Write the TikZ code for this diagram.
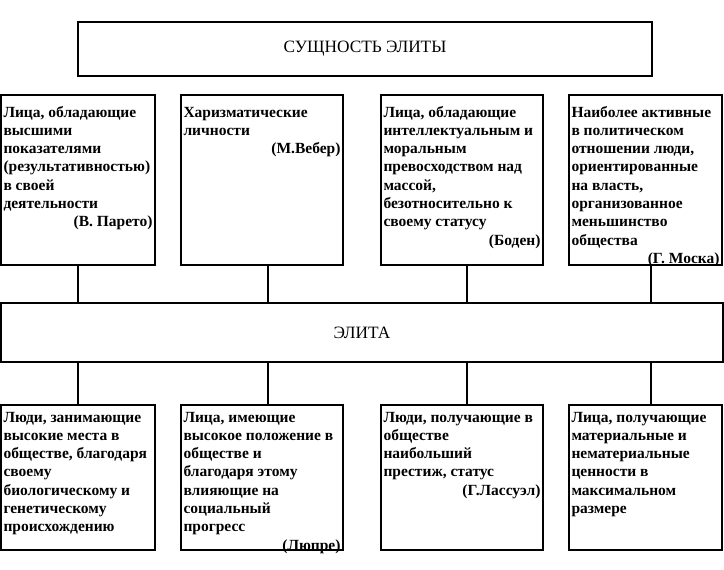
\documentclass[tikz,border=0pt]{standalone}
\usepackage{fontspec}
\setmainfont{Liberation Serif}
\usetikzlibrary{positioning}
\tikzset{
  frame/.style={draw, line width=1.6pt, inner sep=0pt, outer sep=0pt},
  head/.style={frame, font=\fontsize{17.3}{20}\selectfont},
  cell/.style={frame, anchor=north west, inner xsep=2.5pt, inner ysep=0pt,
               font=\bfseries\fontsize{15.5}{18.3}\selectfont},
  link/.style={line width=1.6pt},
}
% fixed-height text block: height, top gap, width, text
\newcommand{\celltext}[4]{\parbox[t][#1][t]{#3}{\raggedright\vspace*{#2}\strut #4}}
\newcommand{\uptext}[2]{\celltext{170pt}{9.2pt}{#1}{#2}}
\newcommand{\lowtext}[2]{\celltext{145pt}{4.2pt}{#1}{#2}}
\newcommand{\who}[1]{\hspace*{\fill}#1}

\begin{document}
\begin{tikzpicture}[x=1pt, y=1pt]
  \useasboundingbox (0,0) rectangle (724,-570);
  % bands
  \node[head, minimum width=574pt, minimum height=54pt] (title) at (365,-49) {СУЩНОСТЬ ЭЛИТЫ};
  \node[head, minimum width=722pt, minimum height=59pt] (elite) at (362,-332.5) {ЭЛИТА};
  % upper row
  \node[cell, above=38pt of elite.north west, anchor=south west] (t1)
    {\uptext{149pt}{Лица, обладающие\\высшими\\показателями\\(результативностью)\\в своей\\деятельности\\\who{(В. Парето)}}};
  \node[cell, right=26pt of t1] (t2)
    {\uptext{157pt}{Харизматические\\личности\\\who{(М.Вебер)}}};
  \node[cell, right=38pt of t2] (t3)
    {\uptext{157pt}{Лица, обладающие\\интеллектуальным и\\моральным\\превосходством над\\массой,\\безотносительно к\\своему статусу\\\who{(Боден)}}};
  \node[cell, right=26pt of t3] (t4)
    {\uptext{148pt}{Наиболее активные\\в политическом\\отношении люди,\\ориентированные\\на власть,\\организованное\\меньшинство\\общества\\\who{(Г. Моска)}}};
  % lower row
  \node[cell, below=43pt of elite.south west, anchor=north west] (b1)
    {\lowtext{149pt}{Люди, занимающие\\высокие места в\\обществе, благодаря\\своему\\биологическому и\\генетическому\\происхождению}};
  \node[cell, right=26pt of b1] (b2)
    {\lowtext{157pt}{Лица, имеющие\\высокое положение в\\обществе и\\благодаря этому\\влияющие на\\социальный\\прогресс\\\who{(Люпре)}}};
  \node[cell, right=38pt of b2] (b3)
    {\lowtext{157pt}{Люди, получающие в\\обществе\\наибольший\\престиж, статус\\\who{(Г.Лассуэл)}}};
  \node[cell, right=26pt of b3] (b4)
    {\lowtext{148pt}{Лица, получающие\\материальные и\\нематериальные\\ценности в\\максимальном\\размере}};
  % links
  \foreach \n/\dx in {1/0, 2/6, 3/5, 4/5.5} {
    \draw[link] ([xshift=\dx pt]t\n.south) -- ([xshift=\dx pt]t\n.south |- elite.north);
    \draw[link] ([xshift=\dx pt]b\n.north) -- ([xshift=\dx pt]b\n.north |- elite.south);
  }
\end{tikzpicture}
\end{document}
